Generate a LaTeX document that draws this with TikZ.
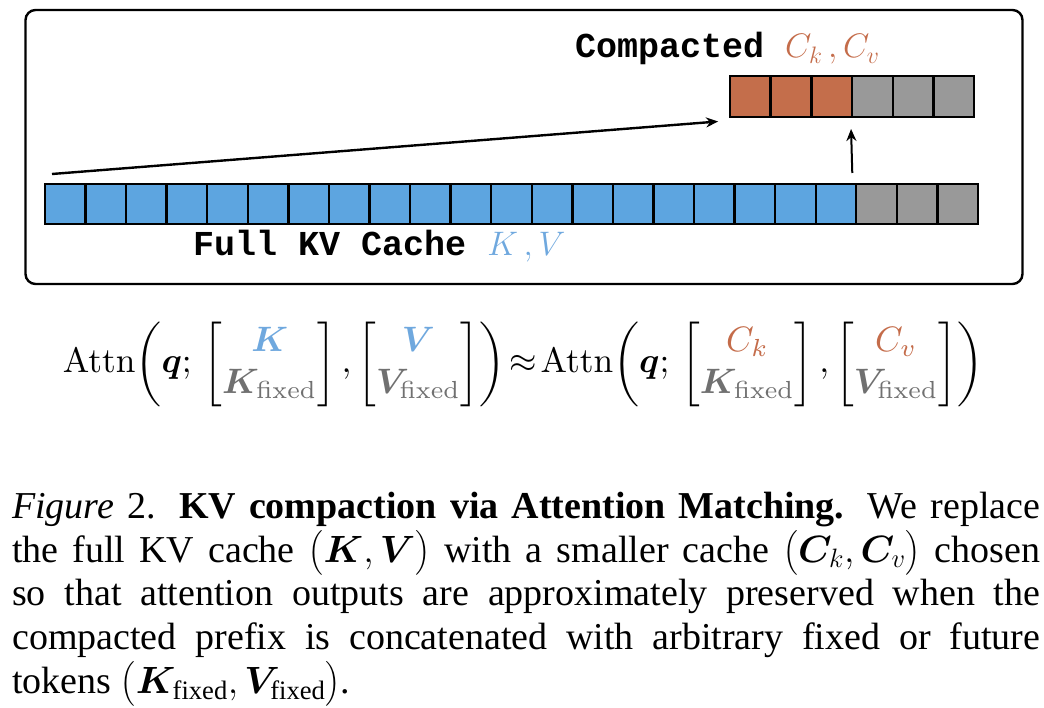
\RequirePackage{fix-cm}
\documentclass[tikz,border=0pt]{standalone}
\usepackage{amsmath,bm}
\usepackage[no-math]{fontspec}
\setmainfont{Liberation Serif}
\newfontfamily\monob{Liberation Mono}
\usetikzlibrary{arrows.meta}
\definecolor{kvblue}{RGB}{93,165,224}
\definecolor{kvtext}{RGB}{111,168,222}
\definecolor{cmporange}{RGB}{196,110,75}
\definecolor{cmptext}{RGB}{196,108,74}
\definecolor{cellgray}{RGB}{153,153,153}
\definecolor{fixgray}{RGB}{112,112,112}
\tikzset{
  cell/.style={draw=black, line width=2.4pt, minimum width=40.6pt, minimum height=40pt, inner sep=0pt, outer sep=0pt},
  outerbox/.style={draw=black, line width=2.4pt, rounded corners=10pt},
  arr/.style={-{Stealth[length=12pt,width=10pt]}, line width=2.4pt},
  varr/.style={-{Stealth[length=12pt,width=10pt]}, line width=2pt},
  lab/.style={anchor=base west, inner sep=0pt, font=\monob\bfseries\fontsize{35}{35}\selectfont},
}
\newcommand{\labmath}[1]{{\fontsize{34}{34}\selectfont$#1$}}
\begin{document}
\begin{tikzpicture}[x=1pt,y=-1pt]
\useasboundingbox (0,0) rectangle (1044,708);
% outer frame
\node[outerbox, minimum width=997pt, minimum height=274pt, inner sep=0pt] (frame) at (524,147) {};
% full cache
\foreach \i in {1,...,23}{
  \ifnum\i<21 \def\fc{kvblue}\else\def\fc{cellgray}\fi
  \node[cell, fill=\fc] (f\i) at ({45+(\i-0.5)*40.565},204) {};
}
% compacted cache
\foreach \i in {1,...,6}{
  \ifnum\i<4 \def\fc{cmporange}\else\def\fc{cellgray}\fi
  \node[cell, fill=\fc, minimum height=41pt] (c\i) at ({730+(\i-0.5)*40.7},96.5) {};
}
% labels
\node[lab] (clab) at (575,58) {Compacted \labmath{\color{cmptext}C_k\,,C_v}};
\node[lab] (flab) at (193,256) {Full KV Cache \labmath{\color{kvtext}K\,,V}};
% arrows
\coordinate (dstart) at ([xshift=7pt,yshift=10pt]f1.north west);
\draw[arr] (dstart) -- ([xshift=-12pt,yshift=-25pt]c1.west);
\coordinate (vstart) at ([xshift=-4pt,yshift=11pt]f21.north west);
\draw[varr] (vstart) -- ([xshift=-1pt,yshift=-12pt]c3.south east);
% equation
\node[inner sep=0pt] (eq) at (523,364) {\resizebox{920pt}{!}{$\displaystyle
\mathrm{Attn}\!\left(\boldsymbol{q};\,
\begin{bmatrix}{\color{kvtext}\boldsymbol{K}}\\ {\color{fixgray}\boldsymbol{K}_{\mathrm{fixed}}}\end{bmatrix},
\begin{bmatrix}{\color{kvtext}\boldsymbol{V}}\\ {\color{fixgray}\boldsymbol{V}_{\mathrm{fixed}}}\end{bmatrix}\right)
\!\approx\!
\mathrm{Attn}\!\left(\boldsymbol{q};\,
\begin{bmatrix}{\color{cmptext}C_k}\\ {\color{fixgray}\boldsymbol{K}_{\mathrm{fixed}}}\end{bmatrix},
\begin{bmatrix}{\color{cmptext}C_v}\\ {\color{fixgray}\boldsymbol{V}_{\mathrm{fixed}}}\end{bmatrix}\right)$}};
% caption
\node[anchor=north west, inner sep=0pt, text width=1028pt, align=justify,
      font=\fontsize{38}{43.7}\selectfont] (cap) at (12,492)
{\textit{Figure} 2. \textbf{KV compaction via Attention Matching.} We replace\linebreak
the full KV cache $\bigl(\boldsymbol{K},\boldsymbol{V}\bigr)$ with a smaller cache $\bigl(\boldsymbol{C}_k,\boldsymbol{C}_v\bigr)$ chosen\linebreak
so that attention outputs are approximately preserved when the\linebreak
compacted prefix is concatenated with arbitrary fixed or future\linebreak
tokens $\bigl(\boldsymbol{K}_{\text{fixed}},\boldsymbol{V}_{\text{fixed}}\bigr)$.};
\end{tikzpicture}
\end{document}
